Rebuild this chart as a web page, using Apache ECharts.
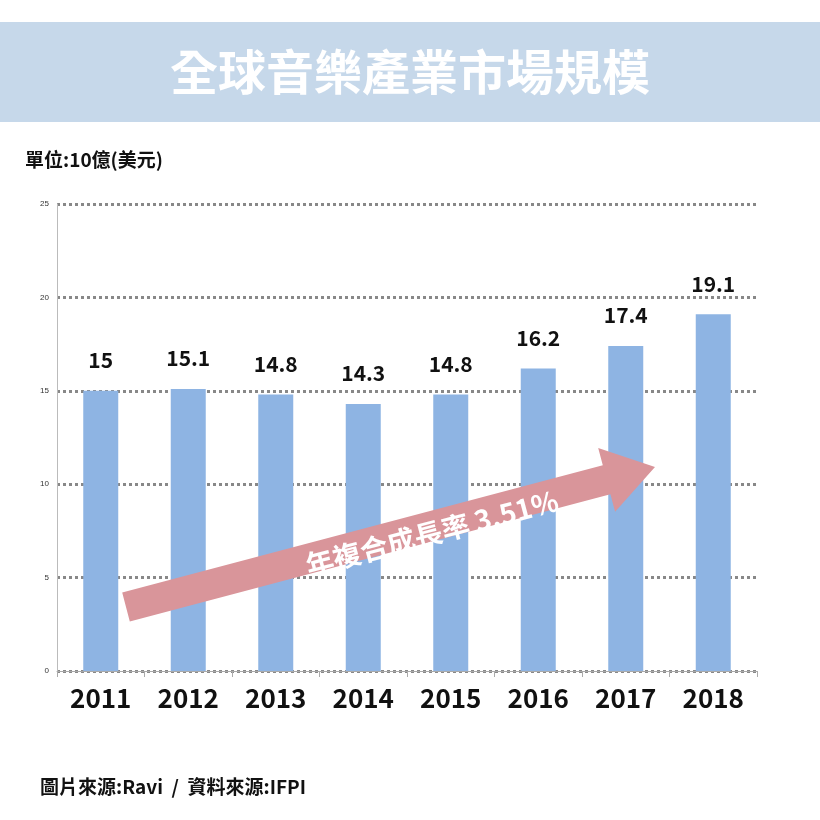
<!DOCTYPE html>
<html><head><meta charset="utf-8">
<script src="https://cdn.jsdelivr.net/npm/echarts@6/dist/echarts.min.js"></script>
<style>body{margin:0;background:#fff}#c{width:820px;height:820px}</style>
</head><body><div id="c"></div>
<script>
const categories=['2011','2012','2013','2014','2015','2016','2017','2018'];
const values=[15,15.1,14.8,14.3,14.8,16.2,17.4,19.1];
const title='全球音樂產業市場規模';
const unit='單位:10億(美元)';
const source='圖片來源:Ravi  /  資料來源:IFPI';
const growth='年複合成長率 3.51%';
const F='"Noto Sans CJK TC","Noto Sans",sans-serif';
const chart=echarts.init(document.getElementById('c'));
chart.setOption({
 animation:false,
 grid:{left:57,right:63,top:204,bottom:149},
 xAxis:{type:'category',data:categories,
  axisLine:{lineStyle:{color:'#aaa'}},axisTick:{show:true,lineStyle:{color:'#aaa'},length:6},
  axisLabel:{color:'#111',fontSize:26,fontWeight:'bold',fontFamily:F,margin:14},splitLine:{show:false}},
 yAxis:{type:'value',min:0,max:25,interval:5,
  axisLine:{show:true,lineStyle:{color:'#bbb'}},axisTick:{show:false},
  axisLabel:{fontSize:8,color:'#333',margin:8},
  splitLine:{lineStyle:{type:'dotted',color:'#888',width:3}}},
 series:[{type:'bar',data:values,barWidth:35,itemStyle:{color:'#8eb4e3'},
  label:{show:true,position:'top',distance:20,color:'#111',fontSize:21,fontWeight:'bold',fontFamily:F}}],
 graphic:[
  {type:'rect',shape:{x:0,y:22,width:820,height:100},style:{fill:'#c6d8ea'}},
  {type:'text',x:410,y:72,style:{text:title,fill:'#fff',fontSize:48,fontWeight:'bold',fontFamily:F,align:'center',verticalAlign:'middle'}},
  {type:'text',x:25,y:160,style:{text:unit,fill:'#111',fontSize:19,fontWeight:'bold',fontFamily:F,verticalAlign:'middle'}},
  {type:'text',x:40,y:787,style:{text:source,fill:'#111',fontSize:19,fontWeight:'bold',fontFamily:F,verticalAlign:'middle'}},
  {type:'polygon',z:10,shape:{points:[[122.2,592.6],[602.8,465.3],[598.2,447.9],[655,467],[615.1,511.7],[610.4,494.3],[129.8,621.5]]},style:{fill:'#d9959a'}},
  {type:'text',z:11,x:432,y:533,rotation:0.258,style:{text:growth,fill:'#fff',fontSize:28,fontWeight:'bold',fontFamily:F,align:'center',verticalAlign:'middle'}}
 ]
});
</script></body></html>
